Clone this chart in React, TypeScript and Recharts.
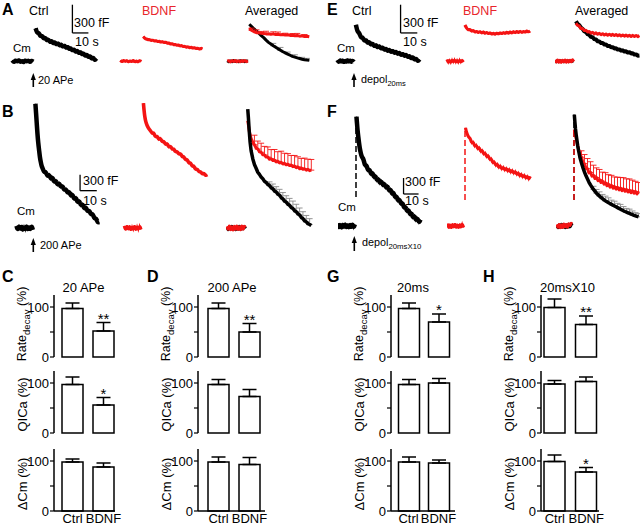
import React from 'react';
import { LineChart, Line, XAxis, YAxis, ReferenceLine, ErrorBar, BarChart, Bar, LabelList } from 'recharts';

const FONT = '"Liberation Sans", Arial, Helvetica, sans-serif';
const RED = '#f41414';
const RED_TXT = '#e8262c';
const GREY = '#8a8a8a';

// ---------------- Trace data (time in s, capacitance in fF) ----------------
// Panel A (20 APe)
const A_CTRL_BASE = [10, -15, 12, -8, 15, -12, 5, -18, 14, -6, 10, -14, 8, -5]; // t0 -13.5, dt 1
const A_CTRL = [350, 295, 307, 260, 277, 235, 255, 215, 236, 198, 221, 184, 208, 172, 196, 160, 184, 148, 172, 135, 159, 122, 145, 108, 131, 94, 117, 80, 103, 66, 89, 52, 75, 37, 59, 21, 43, 5, 29]; // t0 1, dt 1
const A_BDNF_BASE = [8, -10, 12, -6, 10, -12, 6, -8, 12, -10, 5, -12, 9, -4];
const A_BDNF = [262, 240, 236, 226, 230, 218, 226, 212, 220, 205, 214, 200, 210, 196, 204, 188, 195, 180, 188, 172, 180, 166, 174, 160, 168, 152, 160, 146, 155, 140, 150, 136, 146, 130, 142, 126, 138, 132]; // t0 0.8, dt 1
const A_AVG_BASE_K = [4, -6, 3, -5, 6, -3, 2, -6, 5, -2, 4, -5, 3, 0]; // t0 -13, dt 1
const A_AVG_BASE_R = [0, 5, -8, 6, -4, 8, -6, 4, -7, 6, -3, 7, -5, 2];
const A_AVG_K = [392, 368, 342, 320, 298, 272, 250, 224, 200, 182, 164, 148, 131, 116, 100, 88, 75, 63, 51, 43, 35, 28, 21, 16, 12, 10]; // t0 0.8, dt 1.5
const A_AVG_K_ERR = [0, 0, 0, 0, 0, 0, 0, 0, 0, 0, 25, 0, 0, 30, 0, 0, 22, 0, 0, 25, 0, 0, 20, 0, 18, 0];
const A_AVG_R = [352, 326, 314, 303, 302, 296, 295, 290, 292, 286, 290, 284, 285, 280, 283, 277, 280, 274, 276, 270, 273, 266, 269, 263, 265, 260];
const A_AVG_R_ERR = [0, 25, 0, 30, 0, 20, 0, 28, 0, 0, 22, 0, 25, 0, 0, 20, 0, 0, 18, 0, 22, 0, 0, 20, 0, 0];

// Panel B (200 APe)
const B_CTRL_BASE = [40, -50, 60, -40, 55, -60, 35, -45, 60, -55, 40, -50, 55, -35]; // t0 -10.5, dt 0.75
const B_CTRL_FAST = [[0.8, 2330], [1.2, 2150], [1.6, 1960], [2.0, 1770], [2.5, 1590], [3.0, 1460], [3.5, 1320], [4.0, 1240], [4.5, 1160]];
const B_CTRL_SLOW = [1130, 1040, 1060, 960, 1010, 910, 960, 850, 900, 800, 850, 760, 800, 700, 740, 650, 690, 590, 640, 530, 580, 470, 520, 410, 460, 350, 400, 300, 340, 240, 280, 170, 190, 100, 110]; // t0 5, dt 1
const B_BDNF_BASE = [40, -45, 55, -40, 50, -55, 35, -40, 55, -50, 40, -45, 50, -30];
const B_BDNF_FAST = [[0.8, 2340], [1.2, 2200], [1.6, 2090], [2.2, 1990], [3, 1920]];
const B_BDNF_SLOW = [1860, 1830, 1770, 1790, 1700, 1730, 1650, 1690, 1610, 1630, 1560, 1590, 1510, 1540, 1470, 1490, 1420, 1440, 1380, 1400, 1330, 1340, 1270, 1290, 1210, 1230, 1150, 1170, 1090, 1110, 1050, 1060, 1010, 1030, 980, 1000]; // t0 4, dt 1
const B_AVG_BASE_K = [20, -30, 25, -20, 30, -25, 15, -30, 25, -20, 30, -25, 20, -15, 25, -10]; // t0 -11.5, dt 0.75
const B_AVG_BASE_R = [30, -20, 35, -30, 20, -35, 30, -20, 35, -25, 20, -30, 35, -20, 30, 10];
const B_AVG_K_FAST = [[1.0, 2230], [1.4, 2060], [1.8, 1860], [2.4, 1610], [3, 1450], [4, 1300]];
const B_AVG_K_SLOW = [1190, 1120, 1045, 1005, 955, 925, 875, 855, 815, 795, 755, 735, 695, 675, 635, 615, 570, 545, 505, 485, 445, 425, 385, 365, 325, 305, 265, 245, 200, 175, 135, 115, 80, 65, 45]; // t0 5, dt 1
const B_AVG_K_ERR = [0, 0, 0, 0, 0, 0, 0, 0, 0, 70, 0, 90, 0, 100, 0, 110, 0, 120, 0, 120, 0, 130, 0, 140, 0, 140, 0, 130, 0, 130, 0, 120, 0, 110, 0];
const B_AVG_R_FAST = [[1.0, 2010], [1.4, 1930], [2, 1800], [3, 1680], [4, 1610]];
const B_AVG_R_SLOW = [1560, 1500, 1480, 1430, 1420, 1375, 1370, 1330, 1330, 1290, 1300, 1265, 1272, 1240, 1250, 1220, 1230, 1200, 1212, 1185, 1195, 1170, 1180, 1150, 1160, 1130, 1145, 1110, 1125, 1100, 1110, 1085, 1100, 1075, 1085];
const B_AVG_R_ERR = [180, 0, 150, 0, 170, 0, 160, 0, 190, 0, 170, 0, 200, 0, 180, 0, 210, 0, 190, 0, 200, 0, 180, 0, 200, 0, 190, 0, 180, 0, 200, 0, 190, 0, 200];

// Panel E (depol 20 ms)
const E_CTRL_BASE = [12, -14, 15, -10, 14, -16, 8, -12, 16, -10, 12, -15, 10, -8]; // t0 -10.5, dt 0.75
const E_CTRL = [386, 306, 306, 246, 258, 212, 230, 188, 210, 169, 192, 152, 178, 140, 165, 127, 153, 115, 140, 101, 128, 91, 117, 80, 107, 70, 97, 59, 85, 48, 75, 37, 63, 24, 49, 10, 34, -5, 20]; // t0 0.5, dt 1
const E_BDNF_BASE = [18, -20, 15, -22, 20, -15, 22, -18, 16, -20, 20, -16, 14, -10];
const E_BDNF = [385, 350, 330, 340, 315, 330, 305, 322, 300, 318, 295, 315, 292, 310, 288, 305, 285, 300, 282, 302, 285, 305, 288, 308, 290, 312, 292, 315, 295, 318, 298, 320, 300, 322, 302, 318, 305, 325, 308, 320]; // t0 0.5, dt 1
const E_AVG_BASE_K = [5, -6, 4, -5, 6, -4, 3, -6, 5, -3, 4, -5, 6, -4, 3, -2]; // t0 -12, dt 0.75
const E_AVG_BASE_R = [10, -8, 12, -10, 8, -12, 10, -6, 12, -10, 8, -8, 10, -6, 14, -4];
const E_AVG_K = [424, 396, 384, 356, 344, 318, 309, 286, 279, 258, 254, 234, 230, 212, 210, 194, 194, 178, 178, 162, 162, 148, 149, 135, 137, 123, 125, 112, 115, 102, 105, 92, 95, 82, 84, 70, 72, 58, 60]; // t0 0.5, dt 1
const E_AVG_R = [403, 380, 374, 346, 346, 325, 328, 309, 315, 298, 306, 290, 301, 286, 296, 282, 292, 278, 289, 276, 287, 274, 285, 272, 283, 270, 281, 268, 279, 266, 277, 264, 275, 263, 274, 262, 273, 261, 272];

// Panel F (depol 20 ms x10)
const F_CTRL_BASE = [50, -55, 45, -60, 55, -45, 60, -50, 40, -55, 50, -45, 55, -40, 30]; // t0 -12, dt 0.8
const F_CTRL_DASH = [[0, 544], [0, 2040]];
const F_CTRL_FAST = [[0.3, 2050], [0.6, 1950], [1.0, 1800], [1.5, 1680], [2, 1560], [2.5, 1460], [3, 1390], [3.5, 1330], [4, 1290]];
const F_CTRL_SLOW = [1260, 1120, 1150, 1030, 1070, 960, 1010, 900, 950, 840, 895, 790, 850, 750, 805, 705, 760, 650, 700, 590, 640, 525, 570, 460, 510, 400, 445, 330, 375, 265, 315, 205, 255, 145, 200, 95, 155, 55, 120]; // t0 5, dt 1
const F_BDNF_BASE = [45, -50, 40, -55, 50, -40, 55, -45, 40, -50, 45, -40, 50, -30]; // t0 -11.5, dt 0.8
const F_BDNF_DASH = [[0, 488], [0, 1840]];
const F_BDNF_FAST = [[0.3, 1840], [0.8, 1780], [1.5, 1720], [2.5, 1660]];
const F_BDNF_SLOW = [1650, 1545, 1585, 1485, 1530, 1435, 1480, 1385, 1430, 1335, 1380, 1285, 1330, 1235, 1275, 1175, 1215, 1125, 1175, 1085, 1140, 1055, 1115, 1035, 1095, 1015, 1075, 995, 1055, 975, 1035, 955, 1010, 925, 985, 905, 965, 885, 945, 865, 930]; // t0 3.5, dt 1
const F_AVG_BASE_K = [20, -25, 15, -20, 25, -15, 20, -25, 15, -20, 25, -10, 30, 10]; // t0 -11.5, dt 0.8
const F_AVG_BASE_R = [30, -20, 25, -30, 20, -25, 35, -15, 25, -20, 40, 10, 50, 40];
const F_AVG_K_DASH = [[0, 488], [0, 2090]];
const F_AVG_R_DASH = [[0, 488], [0, 1810]];
const F_AVG_K_FAST = [[0.2, 2090], [0.6, 1950], [1.0, 1820], [1.5, 1700], [2, 1600], [2.5, 1500], [3, 1420], [3.5, 1350], [4, 1280]];
const F_AVG_K_SLOW = [1180, 1090, 1010, 940, 880, 820, 770, 725, 685, 650, 615, 585, 560, 535, 512, 490, 470, 455, 438, 420, 405, 390, 375, 360, 345, 330, 315, 300, 285, 272, 260, 248, 236, 224, 212, 200, 190, 180, 172]; // t0 5, dt 1
const F_AVG_K_ERR = [0, 0, 0, 0, 0, 0, 0, 0, 60, 0, 70, 0, 80, 0, 80, 0, 90, 0, 90, 0, 80, 0, 90, 0, 80, 0, 90, 0, 80, 0, 70, 0, 80, 0, 70, 0, 60, 0, 60];
const F_AVG_R_FAST = [[0.2, 1810], [0.6, 1760], [1, 1700], [1.5, 1630], [2, 1560], [2.5, 1500], [3, 1440], [3.5, 1390], [4, 1340]];
const F_AVG_R_SLOW = [1290, 1190, 1170, 1080, 1075, 995, 1005, 935, 950, 890, 910, 850, 870, 815, 840, 785, 810, 755, 782, 730, 760, 710, 740, 692, 725, 678, 710, 663, 696, 650, 684, 638, 672, 626, 660, 614, 648, 602, 635];
const F_AVG_R_ERR = [120, 0, 170, 0, 190, 0, 200, 0, 190, 0, 180, 0, 190, 0, 170, 0, 190, 0, 180, 0, 190, 0, 180, 0, 190, 0, 200, 0, 210, 0, 200, 0, 210, 0, 200, 0, 190, 0, 180];

// ---------------- Bar data (% of control) ----------------
const GROUPS = ['Ctrl', 'BDNF'];
// rows: Rate_decay, QICa, ΔCm ; columns: Ctrl, BDNF
const C_MEANS = [[97, 52], [97, 56], [98, 88]];
const C_ERRS = [[11, 17], [15, 15], [6, 8]];
const C_SIGS = [['', '**'], ['', '*'], ['', '']];
const D_MEANS = [[97, 50], [97, 73], [98, 93]];
const D_ERRS = [[11, 17], [10, 14], [10, 14]];
const D_SIGS = [['', '**'], ['', ''], ['', '']];
const G_MEANS = [[97, 70], [97, 100], [98, 96]];
const G_ERRS = [[11, 16], [10, 9], [10, 6]];
const G_SIGS = [['', '*'], ['', ''], ['', '']];
const H_MEANS = [[99, 65], [98, 103], [99, 78]];
const H_ERRS = [[17, 17], [7, 9], [13, 9]];
const H_SIGS = [['', '**'], ['', ''], ['', '*']];

// ---------------- helpers ----------------
type P = { t: number; v: number; e?: [number, number] };
const reg = (t0: number, dt: number, vals: number[], errs?: number[]): P[] =>
  vals.map((v, i) => {
    const p: P = { t: Math.round((t0 + i * dt) * 1000) / 1000, v };
    if (errs && errs[i]) p.e = [0, errs[i]];
    return p;
  });
const pairs = (arr: number[][]): P[] => arr.map(([t, v]) => ({ t, v }));

type Tr = { data: P[]; color: string; w: number; dash?: string; err?: string; capW?: number; noisy?: boolean };
type Scale = { t: number; v: number; dv: number; dt: number };

function renderTrace(tr: Tr, i: number) {
  const common = {
    data: tr.data,
    dataKey: 'v',
    stroke: tr.color,
    dot: false as const,
    activeDot: false as const,
    isAnimationActive: false,
    strokeLinecap: 'butt' as const,
  };
  if (tr.noisy) {
    return [
      <Line key={`${i}b`} {...common} type="basis" strokeWidth={tr.w} strokeLinejoin="round" />,
      <Line key={`${i}n`} {...common} type="linear" strokeWidth={1.3} strokeLinejoin="miter" />,
    ];
  }
  return (
    <Line key={i} {...common} type="linear" strokeWidth={tr.w} strokeDasharray={tr.dash} strokeLinejoin="round">
      {tr.err ? <ErrorBar dataKey="e" direction="y" width={tr.capW ?? 3} stroke={tr.err} strokeWidth={0.9} /> : null}
    </Line>
  );
}

function Group({ left, top, width, height, xd, yd, traces, scale }: {
  left: number; top: number; width: number; height: number;
  xd: [number, number]; yd: [number, number]; traces: Tr[]; scale?: Scale;
}) {
  return (
    <div style={{ position: 'absolute', left, top, width, height }}>
      <LineChart width={width} height={height} margin={{ top: 0, right: 0, bottom: 0, left: 0 }}>
        <XAxis type="number" dataKey="t" domain={xd} hide allowDataOverflow />
        <YAxis type="number" domain={yd} hide allowDataOverflow />
        {traces.map((tr, i) => renderTrace(tr, i))}
        {scale ? (
          <ReferenceLine
            segment={[{ x: scale.t, y: scale.v }, { x: scale.t, y: scale.v + scale.dv }]}
            stroke="#000"
            strokeWidth={1.3}
            ifOverflow="visible"
          />
        ) : null}
        {scale ? (
          <ReferenceLine
            segment={[{ x: scale.t, y: scale.v }, { x: scale.t + scale.dt, y: scale.v }]}
            stroke="#000"
            strokeWidth={1.3}
            ifOverflow="visible"
          />
        ) : null}
      </LineChart>
    </div>
  );
}

const K = '#000';

// panel geometry
const A_GEO = { top: 0, height: 80, width: 90, xd: [-15, 41.25] as [number, number], yd: [-200, 650] as [number, number] };
const B_GEO = { top: 100, height: 140, width: 92, xd: [-12, 43] as [number, number], yd: [-225, 2400] as [number, number] };
const E_GEO = { top: 0, height: 80, width: 92, xd: [-12, 43] as [number, number], yd: [-200, 650] as [number, number] };
const F_GEO = { top: 100, height: 140, width: 87, xd: [-12, 46] as [number, number], yd: [-262.5, 2362.5] as [number, number] };

function BarRow({ axisX, xEnd, padL, padR, top, means, errs, sigs, showX }: {
  axisX: number; xEnd: number; padL: number; padR: number; top: number;
  means: number[]; errs: number[]; sigs: string[]; showX: boolean;
}) {
  const data = GROUPS.map((g, i) => ({ g, v: means[i], e: [0, errs[i]], s: sigs[i] }));
  const yw = 40, mt = 10, plotH = 62, xh = showX ? 17 : 0, mb = showX ? 0 : 8, mr = 14;
  const w = yw + (xEnd - axisX) + mr;
  const h = mt + plotH + xh + mb;
  const DMAX = 124;
  return (
    <div style={{ position: 'absolute', left: axisX - yw, top: top - mt, width: w, height: h }}>
      <BarChart width={w} height={h} data={data} margin={{ top: mt, right: mr, bottom: mb, left: 0 }}>
        <XAxis
          dataKey="g"
          type="category"
          padding={{ left: padL, right: padR }}
          axisLine={{ stroke: '#000', strokeWidth: 1.5 }}
          tickLine={false}
          tickSize={0}
          tickMargin={3}
          tick={showX ? { fill: '#000', fontSize: 13, fontFamily: FONT } : false}
          height={xh}
          interval={0}
        />
        <YAxis
          type="number"
          domain={[0, DMAX]}
          ticks={[0, 50, 100]}
          interval={0}
          width={yw}
          tickSize={4}
          tickMargin={1}
          tickFormatter={(v: number) => (v === 50 ? '' : String(v))}
          axisLine={{ stroke: '#000', strokeWidth: 1.5 }}
          tickLine={{ stroke: '#000', strokeWidth: 1.2 }}
          tick={{ fill: '#000', fontSize: 13, fontFamily: FONT }}
        />
        <Bar dataKey="v" barSize={21} fill="#fff" stroke="#000" strokeWidth={1.5} isAnimationActive={false}>
          <ErrorBar dataKey="e" direction="y" width={7} stroke="#000" strokeWidth={1.5} />
          <LabelList
            dataKey="s"
            content={(p: any) => {
              if (!p.value) return null;
              const row = data.find((r) => r.s === p.value);
              if (!row) return null;
              const vb = p.viewBox || p;
              const x = Number(vb.x) + Number(vb.width) / 2;
              const yTop = mt + plotH * (1 - (row.v + row.e[1]) / DMAX);
              return (
                <text x={x} y={yTop + 1} textAnchor="middle" fontSize={15} fontFamily={FONT} fill="#000">
                  {p.value}
                </text>
              );
            }}
          />
        </Bar>
      </BarChart>
    </div>
  );
}

const ROW_TOPS = [295, 371, 449];

function BarPanel({ axisX, xEnd, padL, padR, means, errs, sigs }: {
  axisX: number; xEnd: number; padL: number; padR: number;
  means: number[][]; errs: number[][]; sigs: string[][];
}) {
  return (
    <>
      {ROW_TOPS.map((top, r) => (
        <BarRow key={r} axisX={axisX} xEnd={xEnd} padL={padL} padR={padR} top={top}
          means={means[r]} errs={errs[r]} sigs={sigs[r]} showX={r === 2} />
      ))}
    </>
  );
}

function Arrow({ x, y1, y2 }: { x: number; y1: number; y2: number }) {
  return (
    <g>
      <line x1={x} y1={y2} x2={x} y2={y1 + 4} stroke="#000" strokeWidth={1.6} />
      <polygon points={`${x - 2.6},${y1 + 7} ${x},${y1} ${x + 2.6},${y1 + 7}`} fill="#000" />
    </g>
  );
}

function YLabels({ axisX }: { axisX: number }) {
  const cx = axisX - 32;
  const rows = [
    { cy: 324, kind: 'rate' },
    { cy: 404.5, kind: 'qica' },
    { cy: 484, kind: 'dcm' },
  ];
  return (
    <g>
      {rows.map((r) => (
        <text key={r.kind} x={cx} y={r.cy} transform={`rotate(-90 ${cx} ${r.cy})`} textAnchor="middle"
          dominantBaseline="central" fontSize={r.kind === 'rate' ? 12.5 : 13} fontFamily={FONT} fill="#000">
          {r.kind === 'rate' ? (
            <>
              Rate<tspan fontSize={9.5} dy={3.5}>decay</tspan><tspan dy={-3.5}> (%)</tspan>
            </>
          ) : r.kind === 'qica' ? 'QICa (%)' : '\u0394Cm (%)'}
        </text>
      ))}
    </g>
  );
}

export default function App() {
  const KW = 4.5;
  const RW = 3.2;
  // ---- A ----
  const aCtrl: Tr[] = [
    { data: reg(-13.5, 1, A_CTRL_BASE), color: K, w: KW, noisy: true },
    { data: reg(1, 1, A_CTRL), color: K, w: KW, noisy: true },
  ];
  const aBdnf: Tr[] = [
    { data: reg(-13.5, 1, A_BDNF_BASE), color: RED, w: RW, noisy: true },
    { data: reg(0.8, 1, A_BDNF), color: RED, w: RW, noisy: true },
  ];
  const aAvg: Tr[] = [
    { data: reg(-13, 1, A_AVG_BASE_K), color: K, w: 3 },
    { data: reg(-13, 1, A_AVG_BASE_R), color: RED, w: 3 },
    { data: reg(0.8, 1.5, A_AVG_K, A_AVG_K_ERR), color: K, w: 3, err: GREY },
    { data: reg(0.8, 1.5, A_AVG_R, A_AVG_R_ERR), color: RED, w: 3, err: RED },
  ];
  // ---- B ----
  const bCtrl: Tr[] = [
    { data: reg(-10.5, 0.75, B_CTRL_BASE), color: K, w: KW, noisy: true },
    { data: [...pairs(B_CTRL_FAST), ...reg(5, 1, B_CTRL_SLOW)], color: K, w: KW, noisy: true },
  ];
  const bBdnf: Tr[] = [
    { data: reg(-10.5, 0.75, B_BDNF_BASE), color: RED, w: 3.6, noisy: true },
    { data: [...pairs(B_BDNF_FAST), ...reg(4, 1, B_BDNF_SLOW)], color: RED, w: 3.6, noisy: true },
  ];
  const bAvg: Tr[] = [
    { data: reg(-11.5, 0.75, B_AVG_BASE_K), color: K, w: 3 },
    { data: reg(-11.5, 0.75, B_AVG_BASE_R), color: RED, w: 3 },
    { data: [...pairs(B_AVG_R_FAST), ...reg(5, 1, B_AVG_R_SLOW, B_AVG_R_ERR)], color: RED, w: 3, err: RED },
    { data: [...pairs(B_AVG_K_FAST), ...reg(5, 1, B_AVG_K_SLOW, B_AVG_K_ERR)], color: K, w: 3.5, err: GREY },
  ];
  // ---- E ----
  const eCtrl: Tr[] = [
    { data: reg(-10.5, 0.75, E_CTRL_BASE), color: K, w: KW, noisy: true },
    { data: reg(0.5, 1, E_CTRL), color: K, w: KW, noisy: true },
  ];
  const eBdnf: Tr[] = [
    { data: reg(-10.2, 0.75, E_BDNF_BASE), color: RED, w: RW, noisy: true },
    { data: reg(0.5, 1, E_BDNF), color: RED, w: RW, noisy: true },
  ];
  const eAvg: Tr[] = [
    { data: reg(-12, 0.75, E_AVG_BASE_K), color: K, w: 3 },
    { data: reg(-12, 0.75, E_AVG_BASE_R), color: RED, w: 3 },
    { data: reg(0.5, 1, E_AVG_K), color: K, w: 4 },
    { data: reg(0.5, 1, E_AVG_R), color: RED, w: 3 },
  ];
  // ---- F ----
  const fCtrl: Tr[] = [
    { data: reg(-12, 0.8, F_CTRL_BASE), color: K, w: KW, noisy: true },
    { data: pairs(F_CTRL_DASH), color: K, w: 1.5, dash: '6 3' },
    { data: [...pairs(F_CTRL_FAST), ...reg(5, 1, F_CTRL_SLOW)], color: K, w: KW, noisy: true },
  ];
  const fBdnf: Tr[] = [
    { data: reg(-11.5, 0.8, F_BDNF_BASE), color: RED, w: 3.6, noisy: true },
    { data: pairs(F_BDNF_DASH), color: RED, w: 1.5, dash: '6 3' },
    { data: [...pairs(F_BDNF_FAST), ...reg(3.5, 1, F_BDNF_SLOW)], color: RED, w: RW, noisy: true },
  ];
  const fAvg: Tr[] = [
    { data: reg(-11.5, 0.8, F_AVG_BASE_K), color: K, w: 3.5 },
    { data: reg(-11.5, 0.8, F_AVG_BASE_R), color: RED, w: 3 },
    { data: pairs(F_AVG_K_DASH), color: K, w: 1.5, dash: '6 3' },
    { data: pairs(F_AVG_R_DASH), color: RED, w: 1.5, dash: '6 3' },
    { data: [...pairs(F_AVG_R_FAST), ...reg(5, 1, F_AVG_R_SLOW, F_AVG_R_ERR)], color: RED, w: 3, err: RED },
    { data: [...pairs(F_AVG_K_FAST), ...reg(5, 1, F_AVG_K_SLOW, F_AVG_K_ERR)], color: K, w: 3.5, err: GREY },
  ];

  const txt = { fontFamily: FONT, fill: '#000' };

  return (
    <div style={{ position: 'absolute', left: 0, top: 0, width: 640, height: 525, background: '#fff', overflow: 'hidden', fontFamily: FONT }}>
      {/* A */}
      <Group left={10} {...A_GEO} traces={aCtrl} scale={{ t: 24, v: 300, dv: 300, dt: 10 }} />
      <Group left={118} {...A_GEO} traces={aBdnf} />
      <Group left={224} {...A_GEO} traces={aAvg} />
      {/* B */}
      <Group left={14} {...B_GEO} traces={bCtrl} scale={{ t: 27.5, v: 700, dv: 300, dt: 10 }} />
      <Group left={122} {...B_GEO} traces={bBdnf} />
      <Group left={226} {...B_GEO} traces={bAvg} />
      {/* E */}
      <Group left={334.5} {...E_GEO} traces={eCtrl} scale={{ t: 27.2, v: 300, dv: 300, dt: 10 }} />
      <Group left={443.5} {...E_GEO} traces={eBdnf} />
      <Group left={554.5} {...E_GEO} traces={eAvg} />
      {/* F */}
      <Group left={337.5} {...F_GEO} traces={fCtrl} scale={{ t: 31.7, v: 600, dv: 300, dt: 10 }} />
      <Group left={446.5} {...F_GEO} traces={fBdnf} />
      <Group left={555.5} {...F_GEO} traces={fAvg} />

      {/* bar panels */}
      <BarPanel axisX={54} xEnd={115} padL={3} padR={-4} means={C_MEANS} errs={C_ERRS} sigs={C_SIGS} />
      <BarPanel axisX={198} xEnd={265} padL={5} padR={0} means={D_MEANS} errs={D_ERRS} sigs={D_SIGS} />
      <BarPanel axisX={391} xEnd={455} padL={2.5} padR={1.5} means={G_MEANS} errs={G_ERRS} sigs={G_SIGS} />
      <BarPanel axisX={541} xEnd={599} padL={-2} padR={-3} means={H_MEANS} errs={H_ERRS} sigs={H_SIGS} />

      {/* annotations */}
      <svg width={640} height={525} style={{ position: 'absolute', left: 0, top: 0, pointerEvents: 'none' }}>
        {[['A', 2, 15], ['B', 2, 117], ['E', 327, 15], ['F', 327, 117], ['C', 2, 282], ['D', 147, 282], ['G', 327, 282], ['H', 483, 282]].map(([l, x, y]) => (
          <text key={l as string} x={x as number} y={y as number} fontSize={16} fontWeight="bold" {...txt}>{l}</text>
        ))}
        <text x={29} y={15} fontSize={12.5} {...txt}>Ctrl</text>
        <text x={142} y={15} fontSize={12.5} fontFamily={FONT} fill={RED_TXT}>BDNF</text>
        <text x={245} y={15} fontSize={12.5} {...txt}>Averaged</text>
        <text x={352} y={15} fontSize={12.5} {...txt}>Ctrl</text>
        <text x={463} y={15} fontSize={12.5} fontFamily={FONT} fill={RED_TXT}>BDNF</text>
        <text x={575} y={15} fontSize={12.5} {...txt}>Averaged</text>
        <text x={74} y={27} fontSize={12.5} {...txt}>300 fF</text>
        <text x={75} y={46} fontSize={12.5} {...txt}>10 s</text>
        <text x={83} y={185} fontSize={12.5} {...txt}>300 fF</text>
        <text x={83} y={205} fontSize={12.5} {...txt}>10 s</text>
        <text x={403} y={27} fontSize={12.5} {...txt}>300 fF</text>
        <text x={403} y={46} fontSize={12.5} {...txt}>10 s</text>
        <text x={405} y={186} fontSize={12.5} {...txt}>300 fF</text>
        <text x={405} y={205} fontSize={12.5} {...txt}>10 s</text>
        <text x={13} y={52} fontSize={11.5} {...txt}>Cm</text>
        <text x={17} y={215} fontSize={11.5} {...txt}>Cm</text>
        <text x={337} y={52} fontSize={11.5} {...txt}>Cm</text>
        <text x={338} y={211} fontSize={11.5} {...txt}>Cm</text>
        <Arrow x={33.3} y1={73} y2={87} />
        <text x={38} y={84} fontSize={11} {...txt}>20 APe</text>
        <Arrow x={33.3} y1={238} y2={252} />
        <text x={40} y={249} fontSize={11} {...txt}>200 APe</text>
        <Arrow x={354} y1={73} y2={87} />
        <text x={361} y={83} fontSize={10.8} fontFamily={FONT} fill="#000">depol<tspan fontSize={7.5} dy={3} fill="#000">20ms</tspan></text>
        <Arrow x={354.3} y1={236} y2={251} />
        <text x={362} y={246} fontSize={10.8} fontFamily={FONT} fill="#000">depol<tspan fontSize={7.8} dy={3} fill="#000">20msX10</tspan></text>
        <text x={83.5} y={292} fontSize={13} textAnchor="middle" {...txt}>20 APe</text>
        <text x={232} y={292} fontSize={13} textAnchor="middle" {...txt}>200 APe</text>
        <text x={413} y={292} fontSize={13} textAnchor="middle" {...txt}>20ms</text>
        <text x={567.5} y={292} fontSize={13} textAnchor="middle" {...txt}>20msX10</text>
        <YLabels axisX={54} />
        <YLabels axisX={198} />
        <YLabels axisX={391} />
        <YLabels axisX={541} />
      </svg>
    </div>
  );
}
